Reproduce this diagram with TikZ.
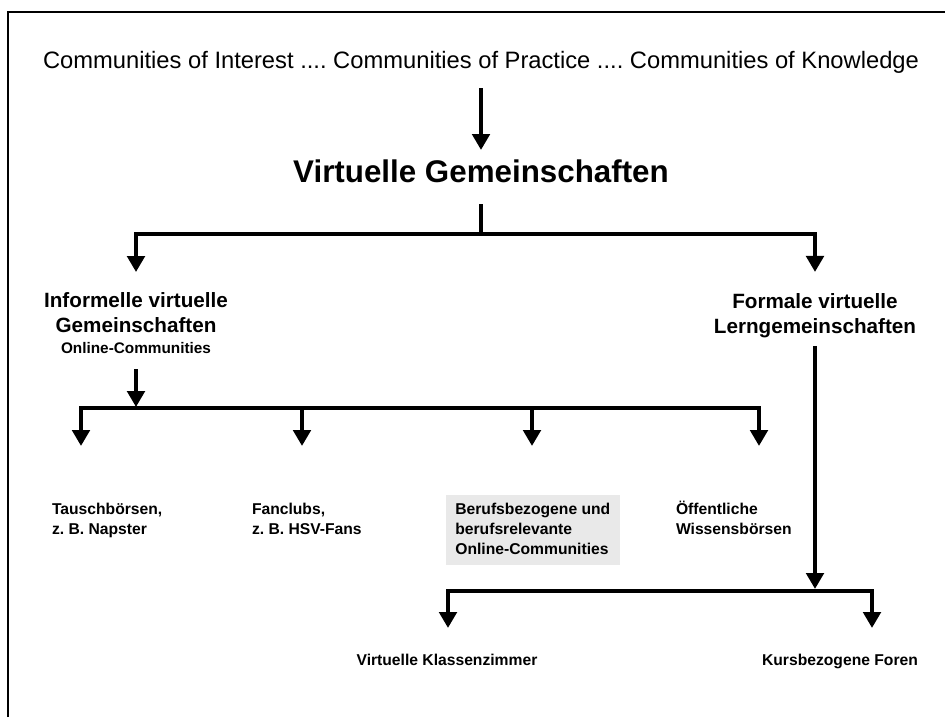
\documentclass[tikz,border=0pt]{standalone}
\usepackage{fontspec}
\setmainfont{Liberation Sans}
\usetikzlibrary{arrows.meta}
\definecolor{boxgray}{HTML}{E9E9E9}
\frenchspacing
\begin{document}
\begin{tikzpicture}[x=0.75pt,y=-0.75pt,
  ln/.style={line width=3.2pt,line join=miter},
  arr/.style={ln,-{Triangle[length=12pt,width=13pt]}},
  txt/.style={inner sep=0pt,outer sep=0pt},
  small/.style={txt,anchor=base west,font=\bfseries\fontsize{11.75}{15}\selectfont},
  smallc/.style={txt,anchor=base,font=\bfseries\fontsize{11.75}{15}\selectfont},
  mid/.style={txt,anchor=base,font=\bfseries\fontsize{15.5}{18.75}\selectfont},
]
\useasboundingbox (0,0) rectangle (945,717);
\draw[line width=2pt,line join=miter] (8,717) -- (8,12) -- (945,12);

% top
\node[txt,anchor=base,font=\frenchspacing\fontsize{17.8}{21}\selectfont,text depth=14.25pt] (coi) at (481,69)
  {Communities of Interest .... Communities of Practice .... Communities of Knowledge};
\node[txt,anchor=base,font=\bfseries\fontsize{23.5}{28}\selectfont,text height=24pt,text depth=16.5pt] (vg) at (481,182)
  {Virtuelle Gemeinschaften};
\draw[arr] (coi.south) -- (vg.north);

% second level
\node[mid] (inf) at (136,307) {\begin{tabular}[t]{@{}c@{}}Informelle virtuelle\\Gemeinschaften\\[-3pt]\fontsize{11.5}{14}\selectfont Online-Communities\end{tabular}};
\node[mid] (form) at (815,308) {\begin{tabular}[t]{@{}c@{}}Formale virtuelle\\Lerngemeinschaften\end{tabular}};

\coordinate (jv) at (481,234);
\draw[arr] (vg.south) -- (jv) -| ([yshift=13.1pt]inf.north);
\draw[arr] (vg.south) -- (jv) -| ([yshift=13.9pt]form.north);

% informal bus
\coordinate (b2) at (302,408);
\coordinate (b3) at (532,408);
\coordinate (t1) at (81,446);
\coordinate (t2) at (302,446);
\coordinate (t3) at (532,446);
\coordinate (t4) at (759,446);
\draw[arr] ([yshift=-6.4pt]inf.south) -- ++(0,38);
\draw[arr] (b2) -| (t1);
\draw[arr] (b2) -- (t2);
\draw[arr] (b2) -| (t4);
\draw[arr] (b3) -- (t3);

% informal labels
\node[small] (tb) at (52,514) {\begin{tabular}[t]{@{}l@{}}Tauschbörsen,\\z. B. Napster\end{tabular}};
\node[small] (fc) at (252,514) {\begin{tabular}[t]{@{}l@{}}Fanclubs,\\z. B. HSV-Fans\end{tabular}};
\node[small,fill=boxgray,inner xsep=7pt,inner ysep=3.5pt] (bb) at (446,514)
  {\begin{tabular}[t]{@{}l@{}}Berufsbezogene und\\berufsrelevante\\Online-Communities\end{tabular}};
\node[small] (ow) at (676,514) {\begin{tabular}[t]{@{}l@{}}Öffentliche\\Wissensbörsen\end{tabular}};

% formal bus
\coordinate (jf) at (815,591);
\coordinate (t5) at (448,628);
\coordinate (t6) at (872,628);
\draw[arr] ([yshift=-4.1pt]form.south) -- ([yshift=1.5pt]jf);
\draw[arr] (jf) -| (t5);
\draw[arr] (jf) -| (t6);

\node[smallc] (vk) at (447,665) {Virtuelle Klassenzimmer};
\node[smallc] (kf) at (840,665) {Kursbezogene Foren};
\end{tikzpicture}
\end{document}
